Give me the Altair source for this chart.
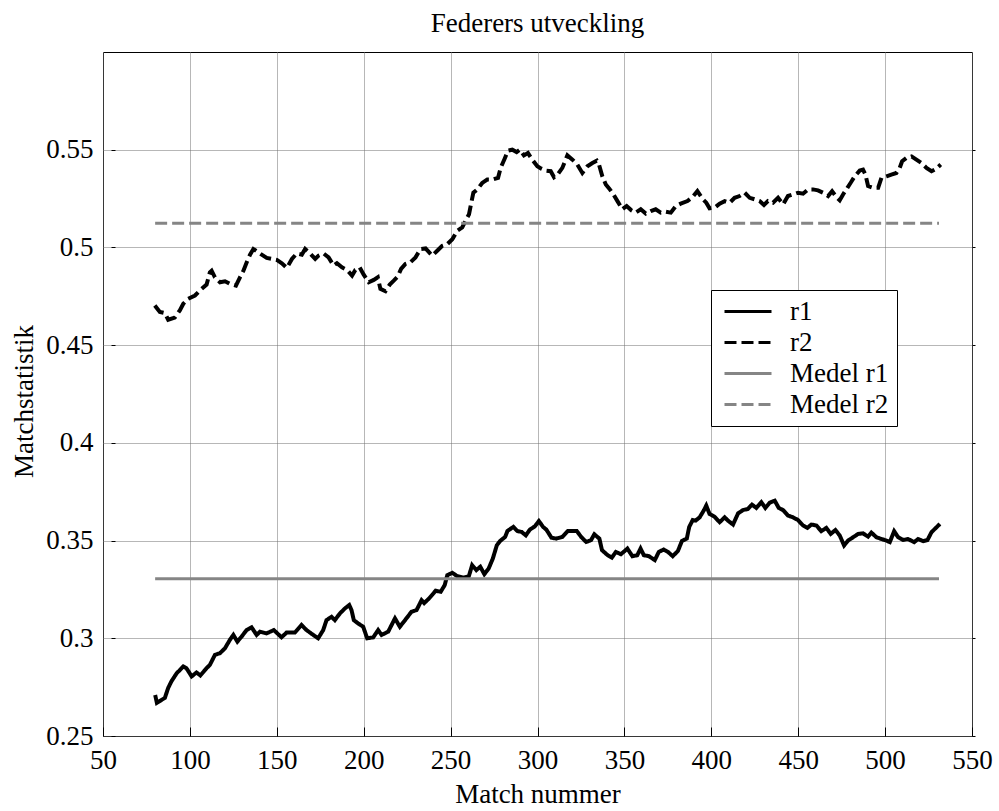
import altair as alt
import pandas as pd

# ---------------- data ----------------
r1_x = [80, 81, 85.6, 87.5, 89.4, 92.3, 96.2, 98, 101, 103.8, 106, 109.6, 111.5, 114.4, 117.3,
        120.2, 123, 125, 127.3, 129.7, 132.6, 135.5, 138.4, 140.3, 144.1, 148.3, 152.7, 155.6,
        160.4, 164.2, 167.1, 171, 173.8, 176.7, 178.6, 181.5, 183.4, 186.3, 189.2, 191.7, 193,
        194.3, 196.8, 199.7, 202, 205.5, 208.3, 210.3, 214.1, 218, 220.8, 224.6, 227.5, 230.4,
        233.3, 234.8, 237.6, 241.4, 244.3, 246.6, 248.1, 251, 253.8, 257.6, 260.5, 262.4, 264.8,
        267.1, 269.4, 271.9, 274.3, 276.6, 278.5, 281.4, 282.7, 286.1, 288.4, 290.9, 293.3, 295.6,
        298.5, 300.8, 303.2, 305.1, 308, 310.8, 314.3, 317.5, 320.3, 322.6, 325.1, 328, 330.8,
        332.7, 335.6, 337.1, 340.4, 342.8, 345.1, 348, 351.7, 354.6, 357.4, 359.3, 361.2, 364.1,
        367.5, 369.8, 372.6, 375.1, 377.8, 380.8, 383.1, 385.9, 387.3, 389.3, 391, 393.3, 395.8,
        397.1, 399, 401.9, 404.8, 407.7, 409.6, 412.5, 415.4, 418.2, 421.1, 423.4, 425.9, 428.8,
        431.1, 433.6, 436.5, 438.8, 441.3, 444.1, 447, 449.9, 452.8, 455.3, 457.6, 460.5, 463.3,
        466.2, 468.7, 471.4, 473.9, 476.4, 478.7, 481.6, 484.5, 487.3, 490.2, 492.1, 495, 497.9,
        500.8, 502.7, 505.2, 507.5, 510.4, 513.2, 516.7, 519, 521.9, 524.4, 526.7, 529.6, 531.5]
r1_y = [0.271, 0.267, 0.2695, 0.2746, 0.278, 0.282, 0.2856, 0.2847, 0.2805, 0.2825, 0.281, 0.2847,
        0.2864, 0.2915, 0.2924, 0.2949, 0.2992, 0.3017, 0.2983, 0.3008, 0.3042, 0.3056, 0.3017,
        0.3034, 0.3025, 0.3042, 0.3005, 0.3029, 0.3029, 0.3068, 0.3042, 0.3017, 0.300, 0.3042,
        0.3093, 0.311, 0.3093, 0.3127, 0.3153, 0.317, 0.3144, 0.3093, 0.3076, 0.3059, 0.300,
        0.3005, 0.3042, 0.3017, 0.3034, 0.3102, 0.3059, 0.3102, 0.3136, 0.3144, 0.3195, 0.318,
        0.3204, 0.3243, 0.3238, 0.3272, 0.3323, 0.3335, 0.3318, 0.331, 0.3318, 0.3374, 0.3349,
        0.3366, 0.3328, 0.3357, 0.3408, 0.3476, 0.3498, 0.3519, 0.3549, 0.357, 0.3549, 0.3544,
        0.3527, 0.3556, 0.3573, 0.36, 0.357, 0.3556, 0.3515, 0.351, 0.3519, 0.3549, 0.3549,
        0.3549, 0.3519, 0.3493, 0.3502, 0.3532, 0.351, 0.3451, 0.3425, 0.3413, 0.3442, 0.343,
        0.3459, 0.342, 0.3425, 0.3459, 0.3425, 0.342, 0.340, 0.3442, 0.3454, 0.3442, 0.342,
        0.3447, 0.3498, 0.351, 0.357, 0.3605, 0.3602, 0.3619, 0.3656, 0.3679, 0.3636, 0.3622,
        0.3594, 0.3619, 0.3602, 0.3582, 0.3639, 0.3656, 0.3662, 0.3684, 0.3667, 0.3696, 0.3667,
        0.3694, 0.3704, 0.3667, 0.3656, 0.3628, 0.3619, 0.3605, 0.3577, 0.3565, 0.3582, 0.3577,
        0.3548, 0.3565, 0.3534, 0.3554, 0.3526, 0.3475, 0.350, 0.3517, 0.3534, 0.3537, 0.352,
        0.3541, 0.3517, 0.3508, 0.350, 0.3492, 0.3548, 0.3517, 0.3503, 0.3508, 0.3492, 0.3508,
        0.3497, 0.3503, 0.3543, 0.3568, 0.3585]

r2_x = [79.8, 82.7, 85.6, 87.5, 91.3, 94.2, 96.2, 99, 102.9, 105.8, 109.6, 111.5, 112.5, 114.4,
        117.3, 120.2, 123, 126.5, 128.8, 130.8, 132.7, 134.6, 136.5, 138.5, 141.3, 144.2, 147.1,
        150, 152.9, 155.8, 158.7, 161.5, 164.4, 166.3, 169.2, 172.1, 174, 176.9, 179.8, 182.7,
        184.6, 187.5, 190.4, 193.3, 195.2, 197.7, 200, 202.9, 205.8, 208.1, 209.6, 212.5, 215,
        217.3, 219.6, 221.5, 224, 226.9, 229.8, 232.7, 235.6, 239.4, 242.3, 245.2, 248.1, 251,
        253.8, 256.7, 258.6, 260.6, 261.9, 263.1, 265.4, 268.2, 271.1, 274, 277.3, 278.8, 281.1,
        283, 285.5, 288, 289.9, 292.2, 294.5, 297, 299.9, 302.2, 304.7, 307.6, 309.5, 311.8,
        314.3, 317.2, 320.1, 322.9, 325.8, 328.7, 331.6, 334.1, 335.4, 337.3, 339.3, 341.2,
        343.7, 346, 348.8, 351.3, 354, 356.5, 359.4, 362.3, 365.2, 368, 370.9, 373.8, 376.7,
        379.6, 382.4, 386.3, 389.2, 392, 395.2, 397.1, 399, 401.9, 404.8, 407.7, 410.6, 413.4,
        416.3, 419.2, 422.1, 425, 427.8, 430.3, 432.6, 435.5, 438.4, 441.3, 444.1, 447, 449.9,
        452.8, 455.7, 458.5, 461.4, 464.3, 467.2, 469.5, 472, 473.9, 475.8, 478.3, 480.2, 482.5,
        485.4, 487.3, 488.7, 490.2, 493.1, 496, 497.9, 500.8, 503.6, 506.5, 508.4, 509.8, 512.3,
        515.2, 518, 520.9, 523.8, 526.7, 529.5, 532]
r2_y = [0.4703, 0.467, 0.4664, 0.463, 0.4641, 0.4678, 0.4712, 0.4737, 0.4754, 0.478, 0.481,
        0.4873, 0.4881, 0.4847, 0.4822, 0.4827, 0.4814, 0.4805, 0.4847, 0.4881, 0.4924, 0.4963,
        0.4992, 0.498, 0.4963, 0.4946, 0.4941, 0.4936, 0.4919, 0.4895, 0.4941, 0.4969, 0.4963,
        0.4992, 0.4969, 0.4941, 0.4958, 0.4969, 0.4949, 0.4907, 0.4919, 0.4898, 0.4885, 0.4856,
        0.4885, 0.4898, 0.4861, 0.4822, 0.4834, 0.4847, 0.4788, 0.4776, 0.481, 0.483, 0.4851,
        0.489, 0.4915, 0.4924, 0.4949, 0.4992, 0.4995, 0.4958, 0.4983, 0.5008, 0.5017, 0.5042,
        0.5085, 0.5102, 0.5136, 0.517, 0.5229, 0.528, 0.5297, 0.533, 0.5347, 0.5347, 0.5356,
        0.5407, 0.5454, 0.5495, 0.550, 0.5488, 0.550, 0.5471, 0.5483, 0.5449, 0.5415, 0.5403,
        0.5393, 0.539, 0.5359, 0.5376, 0.5407, 0.5471, 0.5449, 0.5424, 0.5381, 0.5415, 0.5432,
        0.5444, 0.5424, 0.5364, 0.5322, 0.5302, 0.5271, 0.5237, 0.5195, 0.5212, 0.519, 0.5178,
        0.5195, 0.5173, 0.5186, 0.5195, 0.5178, 0.5183, 0.5178, 0.5212, 0.5224, 0.5237, 0.5258,
        0.5288, 0.5246, 0.5229, 0.520, 0.5203, 0.5224, 0.5237, 0.5229, 0.5254, 0.5263, 0.528,
        0.5254, 0.5246, 0.5237, 0.5217, 0.5237, 0.5229, 0.5254, 0.522, 0.5263, 0.5271, 0.528,
        0.5275, 0.5297, 0.5297, 0.5292, 0.528, 0.5263, 0.5288, 0.5258, 0.5241, 0.5271, 0.5305,
        0.5331, 0.5364, 0.5393, 0.5398, 0.5373, 0.5314, 0.5305, 0.5305, 0.5356, 0.5364, 0.5373,
        0.5381, 0.5407, 0.5441, 0.5458, 0.5466, 0.5449, 0.5432, 0.5407, 0.539, 0.5403, 0.5424]

series_names = ["r1", "r2", "Medel r1", "Medel r2"]
mean_names = ["Medel r1", "Medel r2"]
mean_values = [0.3305, 0.5124]
mean_start = [80, 80]
mean_end = [531, 531]

x_ticks = [50, 100, 150, 200, 250, 300, 350, 400, 450, 500, 550]
y_ticks = [0.25, 0.3, 0.35, 0.4, 0.45, 0.5, 0.55]

# ---------------- tables ----------------
lines = pd.DataFrame({
    "match": r1_x + r2_x,
    "value": r1_y + r2_y,
    "series": ["r1"] * len(r1_x) + ["r2"] * len(r2_x),
})
means = pd.DataFrame({
    "series": mean_names, "x1": mean_start, "x2": mean_end, "value": mean_values,
})

W, H = 869, 684
FONT = "Liberation Serif"
FS = 27

xscale = alt.Scale(domain=[50, 550], nice=False, zero=False)
yscale = alt.Scale(domain=[0.25, 0.6], nice=False, zero=False)

legend = alt.Legend(
    title=None, orient="none", legendX=608, legendY=238,
    padding=8, strokeColor="black", fillColor="white",
    symbolType="stroke", symbolSize=2209, symbolStrokeWidth=3,
    clipHeight=27, rowPadding=3, symbolOffset=4, labelOffset=17,
    labelFont=FONT, labelFontSize=FS, labelColor="black", labelLimit=400,
)
color = alt.Color("series:N", scale=alt.Scale(
    domain=series_names, range=["#000000", "#000000", "#858585", "#858585"]), legend=legend)
dash = alt.StrokeDash("series:N", scale=alt.Scale(
    domain=series_names, range=[[1, 0], [12, 5], [1, 0], [12, 5]]), legend=legend)

grid_style = dict(grid=True, gridColor="#6e6e6e", gridDash=[1, 1], gridWidth=1,
                  ticks=False, tickSize=0, domain=False,
                  labelFont=FONT, labelFontSize=FS, labelColor="black",
                  titleFont=FONT, titleFontSize=FS, titleFontWeight="normal",
                  titleColor="black", labelOverlap=False, labelFlush=False)

main_x = alt.Axis(values=x_ticks, orient="bottom", title="Match nummer", format="d",
                  labelPadding=11, titlePadding=8, **grid_style)
main_y = alt.Axis(values=y_ticks, orient="left", title="Matchstatistik", format="~g",
                  labelPadding=10, titlePadding=7, titleY=349, **grid_style)

tick_style = dict(grid=False, labels=False, domain=False, ticks=True,
                  tickColor="black", tickWidth=1, title=None, minExtent=0, maxExtent=0)

main = alt.Chart(lines).mark_line(strokeWidth=4).encode(
    x=alt.X("match:Q", scale=xscale, axis=main_x),
    y=alt.Y("value:Q", scale=yscale, axis=main_y),
    color=color, strokeDash=dash,
)

mean_rules = alt.Chart(means).mark_rule(strokeWidth=3).encode(
    x=alt.X("x1:Q", scale=xscale,
            axis=alt.Axis(values=x_ticks, orient="top", offset=-H, tickSize=9, **tick_style)),
    x2="x2:Q",
    y=alt.Y("value:Q", scale=yscale,
            axis=alt.Axis(values=y_ticks, orient="right", offset=-(W - 8), tickSize=4, **tick_style)),
    color=color, strokeDash=dash,
)

right_ticks = alt.Chart(means).mark_point(opacity=0).encode(
    x=alt.X("x1:Q", scale=xscale, axis=None),
    y=alt.Y("value:Q", scale=yscale,
            axis=alt.Axis(values=y_ticks, orient="right", offset=0, tickSize=3, **tick_style)),
)

chart = alt.layer(main, mean_rules, right_ticks).resolve_axis(
    x="independent", y="independent"
).properties(
    width=W, height=H,
    autosize=alt.AutoSizeParams(type="none"),
    padding={"left": 103, "top": 52, "right": 27, "bottom": 75},
    background="white",
    title=alt.TitleParams("Federers utveckling", font=FONT, fontSize=FS, fontWeight="normal",
                          color="black", anchor="middle", offset=-7, baseline="alphabetic"),
).configure_view(stroke="black", strokeWidth=1)

chart.save("out.html", embed_options={"renderer": "svg", "actions": False})
